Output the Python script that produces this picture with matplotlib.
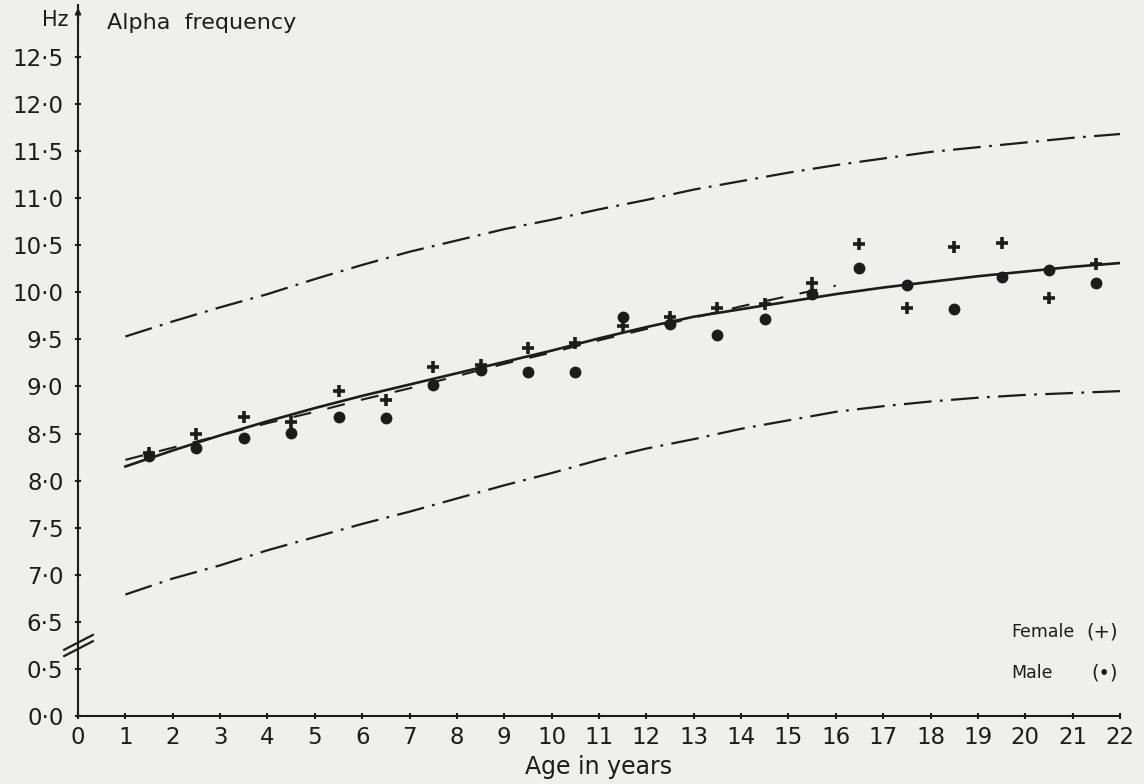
import numpy as np
import matplotlib
matplotlib.use('Agg')
import matplotlib.pyplot as plt
from matplotlib.path import Path

plt.rcParams['font.family'] = ['DejaVu Sans']
plt.rcParams['lines.scale_dashes'] = False

INK = '#1c1c1c'
PAPER = '#efefed'

# age groups (midpoints) and mean alpha frequency (Hz)
ages = [1.5, 2.5, 3.5, 4.5, 5.5, 6.5, 7.5, 8.5, 9.5, 10.5, 11.5,
        12.5, 13.5, 14.5, 15.5, 16.5, 17.5, 18.5, 19.5, 20.5, 21.5]
female = [8.29, 8.50, 8.68, 8.62, 8.95, 8.86, 9.21, 9.23, 9.41, 9.46, 9.64,
          9.74, 9.83, 9.87, 10.10, 10.51, 9.83, 10.48, 10.52, 9.94, 10.30]
male = [8.26, 8.35, 8.45, 8.51, 8.68, 8.66, 9.01, 9.17, 9.15, 9.15, 9.74,
        9.66, 9.55, 9.72, 9.98, 10.26, 10.08, 9.82, 10.16, 10.24, 10.10]

# fitted curve, read at whole years
curve_age = list(range(1, 23))
fit_mean = [8.15, 8.32, 8.48, 8.63, 8.77, 8.90, 9.02, 9.14, 9.26, 9.38, 9.51,
            9.63, 9.74, 9.82, 9.90, 9.98, 10.05, 10.11, 10.17, 10.22, 10.27, 10.31]
fit_upper = [9.53, 9.69, 9.84, 9.98, 10.14, 10.29, 10.43, 10.55, 10.67, 10.77, 10.88,
             10.98, 11.09, 11.18, 11.27, 11.35, 11.42, 11.49, 11.54, 11.59, 11.64, 11.68]
fit_lower = [6.79, 6.96, 7.10, 7.26, 7.40, 7.54, 7.67, 7.81, 7.95, 8.08, 8.22,
             8.34, 8.44, 8.55, 8.64, 8.73, 8.79, 8.84, 8.88, 8.91, 8.93, 8.95]

# second (dashed) fit, ages 1 to 16
dash_age = list(range(1, 17))
fit_dashed = [8.22, 8.35, 8.48, 8.61, 8.73, 8.86, 8.98, 9.11, 9.24, 9.36, 9.49,
              9.61, 9.73, 9.85, 9.96, 10.07]

ytick_vals = [0.0, 0.5, 6.5, 7.0, 7.5, 8.0, 8.5, 9.0, 9.5, 10.0, 10.5, 11.0, 11.5, 12.0, 12.5]
xtick_vals = list(range(0, 23))


def fwd(y):
    y = np.asarray(y, dtype=float)
    return np.where(y <= 0.5, y / 0.5,
                    np.where(y >= 6.5, 2 + (y - 6.5) / 0.5, 1 + (y - 0.5) / 6.0))


def inv(p):
    p = np.asarray(p, dtype=float)
    return np.where(p <= 1, p * 0.5,
                    np.where(p >= 2, 6.5 + (p - 2) * 0.5, 0.5 + (p - 1) * 6.0))


fig = plt.figure(figsize=(11.44, 7.84), dpi=100, facecolor=PAPER)
ax = fig.add_axes([0.0682, 0.0867, 0.9108, 0.9069])
ax.set_facecolor(PAPER)
ax.set_yscale('function', functions=(fwd, inv))
ax.set_xlim(0, 22)
ax.set_ylim(0, 13.05)

ax.plot(curve_age, fit_upper, color=INK, lw=1.6, linestyle=(0, (20, 6, 2, 6)))
ax.plot(curve_age, fit_lower, color=INK, lw=1.6, linestyle=(0, (20, 6, 2, 6)))
ax.plot(dash_age, fit_dashed, color=INK, lw=1.5, linestyle=(0, (13, 12)))
ax.plot(curve_age, fit_mean, color=INK, lw=1.9)

ax.plot(ages, female, linestyle='none', marker='+', markersize=9,
        color=INK, markeredgewidth=2.6)
ax.plot(ages, male, linestyle='none', marker='o', markersize=7.5, color=INK)

for side in ('top', 'right'):
    ax.spines[side].set_visible(False)
for side in ('left', 'bottom'):
    ax.spines[side].set_linewidth(1.5)
    ax.spines[side].set_color(INK)

ax.set_xticks(xtick_vals)
ax.set_xticklabels([str(v) for v in xtick_vals])
ax.set_yticks(ytick_vals)
ax.set_yticklabels(['{:.1f}'.format(v).replace('.', '\u00b7') for v in ytick_vals])
ax.tick_params(axis='both', direction='inout', length=5, width=1.5,
               colors=INK, labelsize=16.5)
ax.tick_params(axis='x', pad=5)
ax.tick_params(axis='y', pad=8)
ax.minorticks_off()

ax.set_xlabel('Age in years', fontsize=17, color=INK, labelpad=4)

# arrow at top of the frequency axis
ax.annotate('', xy=(0, 1.0), xytext=(0, 0.97), xycoords='axes fraction',
            arrowprops=dict(arrowstyle='-|>', lw=1.5, color=INK,
                            mutation_scale=8), annotation_clip=False)
ax.text(-0.009, 0.979, 'Hz', transform=ax.transAxes, ha='right', va='center',
        fontsize=15, color=INK)
ax.text(0.028, 0.975, 'Alpha  frequency', transform=ax.transAxes, ha='left',
        va='center', fontsize=16, color=INK)

# axis break mark between 0.5 and 6.5
brk = Path([(-14.5, -4.5), (14.5, 10.5), (-14.5, -10.5), (14.5, 4.5)],
           [Path.MOVETO, Path.LINETO, Path.MOVETO, Path.LINETO])
ax.plot([0], [3.5], marker=brk, markersize=22, markerfacecolor='none',
        markeredgecolor=INK, markeredgewidth=1.6, clip_on=False)

# key
ax.text(0.896, 0.118, 'Female', transform=ax.transAxes, ha='left', va='center',
        fontsize=12.5, color=INK)
ax.text(0.998, 0.118, '(+)', transform=ax.transAxes, ha='right', va='center',
        fontsize=14, color=INK)
ax.text(0.896, 0.060, 'Male', transform=ax.transAxes, ha='left', va='center',
        fontsize=12.5, color=INK)
ax.text(0.998, 0.060, '(\u2022)', transform=ax.transAxes, ha='right', va='center',
        fontsize=14, color=INK)

fig.savefig('out.png', dpi=100, facecolor=PAPER)
